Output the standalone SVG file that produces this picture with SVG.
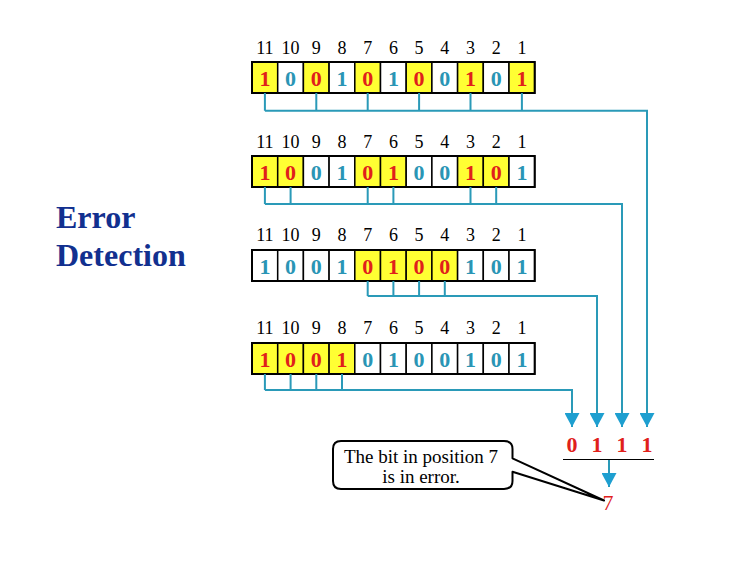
<svg xmlns="http://www.w3.org/2000/svg" width="743" height="567" viewBox="0 0 743 567">
<style>
.c{fill:#ffffff;stroke:#000;stroke-width:1.5}
.y{fill:#ffff33;stroke:#000;stroke-width:1.5}
.o{fill:none;stroke:#000;stroke-width:2}
.lab{font-family:"Liberation Serif",serif;font-size:18px;fill:#000;text-anchor:middle}
.r{font-family:"Liberation Serif",serif;font-size:22px;font-weight:bold;fill:#e0201b;text-anchor:middle}
.b{font-family:"Liberation Serif",serif;font-size:22px;font-weight:bold;fill:#2a95b5;text-anchor:middle}
.ln{fill:none;stroke:#2a9ab8;stroke-width:2}
.ttl{font-family:"Liberation Serif",serif;font-size:32px;font-weight:bold;fill:#12308f}
.cal{font-family:"Liberation Serif",serif;font-size:19px;fill:#000;text-anchor:middle}
</style>
<defs>
<marker id="ah" viewBox="0 0 14 15" refX="14" refY="7.5" markerWidth="14" markerHeight="15" markerUnits="userSpaceOnUse" orient="auto">
<path d="M0,0 L14,7.5 L0,15 z" fill="#1e9fd0"/>
</marker>
</defs>
<rect width="743" height="567" fill="#fff"/>
<g id="title">
<text class="ttl" x="56" y="228">Error</text>
<text class="ttl" x="56" y="266">Detection</text>
</g>
<g id="row1">
<rect class="y" x="252" y="62" width="25.7" height="31"/>
<rect class="c" x="277.7" y="62" width="25.7" height="31"/>
<rect class="y" x="303.4" y="62" width="25.7" height="31"/>
<rect class="c" x="329.1" y="62" width="25.7" height="31"/>
<rect class="y" x="354.8" y="62" width="25.7" height="31"/>
<rect class="c" x="380.5" y="62" width="25.7" height="31"/>
<rect class="y" x="406.2" y="62" width="25.7" height="31"/>
<rect class="c" x="431.9" y="62" width="25.7" height="31"/>
<rect class="y" x="457.6" y="62" width="25.7" height="31"/>
<rect class="c" x="483.3" y="62" width="25.7" height="31"/>
<rect class="y" x="509" y="62" width="25.7" height="31"/>
<rect class="o" x="252" y="62" width="282.7" height="31"/>
<text class="lab" y="54"><tspan x="264.9">11</tspan><tspan x="290.6">10</tspan><tspan x="316.3">9</tspan><tspan x="342">8</tspan><tspan x="367.7">7</tspan><tspan x="393.4">6</tspan><tspan x="419.1">5</tspan><tspan x="444.8">4</tspan><tspan x="470.5">3</tspan><tspan x="496.2">2</tspan><tspan x="521.9">1</tspan></text>
<text class="r" x="264.9" y="85.5">1</text><text class="b" x="290.6" y="85.5">0</text><text class="r" x="316.3" y="85.5">0</text><text class="b" x="342" y="85.5">1</text><text class="r" x="367.7" y="85.5">0</text><text class="b" x="393.4" y="85.5">1</text><text class="r" x="419.1" y="85.5">0</text><text class="b" x="444.8" y="85.5">0</text><text class="r" x="470.5" y="85.5">1</text><text class="b" x="496.2" y="85.5">0</text><text class="r" x="521.9" y="85.5">1</text>
</g>
<g id="row2">
<rect class="y" x="252" y="156" width="25.7" height="31"/>
<rect class="y" x="277.7" y="156" width="25.7" height="31"/>
<rect class="c" x="303.4" y="156" width="25.7" height="31"/>
<rect class="c" x="329.1" y="156" width="25.7" height="31"/>
<rect class="y" x="354.8" y="156" width="25.7" height="31"/>
<rect class="y" x="380.5" y="156" width="25.7" height="31"/>
<rect class="c" x="406.2" y="156" width="25.7" height="31"/>
<rect class="c" x="431.9" y="156" width="25.7" height="31"/>
<rect class="y" x="457.6" y="156" width="25.7" height="31"/>
<rect class="y" x="483.3" y="156" width="25.7" height="31"/>
<rect class="c" x="509" y="156" width="25.7" height="31"/>
<rect class="o" x="252" y="156" width="282.7" height="31"/>
<text class="lab" y="148"><tspan x="264.9">11</tspan><tspan x="290.6">10</tspan><tspan x="316.3">9</tspan><tspan x="342">8</tspan><tspan x="367.7">7</tspan><tspan x="393.4">6</tspan><tspan x="419.1">5</tspan><tspan x="444.8">4</tspan><tspan x="470.5">3</tspan><tspan x="496.2">2</tspan><tspan x="521.9">1</tspan></text>
<text class="r" x="264.9" y="179.5">1</text><text class="r" x="290.6" y="179.5">0</text><text class="b" x="316.3" y="179.5">0</text><text class="b" x="342" y="179.5">1</text><text class="r" x="367.7" y="179.5">0</text><text class="r" x="393.4" y="179.5">1</text><text class="b" x="419.1" y="179.5">0</text><text class="b" x="444.8" y="179.5">0</text><text class="r" x="470.5" y="179.5">1</text><text class="r" x="496.2" y="179.5">0</text><text class="b" x="521.9" y="179.5">1</text>
</g>
<g id="row3">
<rect class="c" x="252" y="250" width="25.7" height="31"/>
<rect class="c" x="277.7" y="250" width="25.7" height="31"/>
<rect class="c" x="303.4" y="250" width="25.7" height="31"/>
<rect class="c" x="329.1" y="250" width="25.7" height="31"/>
<rect class="y" x="354.8" y="250" width="25.7" height="31"/>
<rect class="y" x="380.5" y="250" width="25.7" height="31"/>
<rect class="y" x="406.2" y="250" width="25.7" height="31"/>
<rect class="y" x="431.9" y="250" width="25.7" height="31"/>
<rect class="c" x="457.6" y="250" width="25.7" height="31"/>
<rect class="c" x="483.3" y="250" width="25.7" height="31"/>
<rect class="c" x="509" y="250" width="25.7" height="31"/>
<rect class="o" x="252" y="250" width="282.7" height="31"/>
<text class="lab" y="241"><tspan x="264.9">11</tspan><tspan x="290.6">10</tspan><tspan x="316.3">9</tspan><tspan x="342">8</tspan><tspan x="367.7">7</tspan><tspan x="393.4">6</tspan><tspan x="419.1">5</tspan><tspan x="444.8">4</tspan><tspan x="470.5">3</tspan><tspan x="496.2">2</tspan><tspan x="521.9">1</tspan></text>
<text class="b" x="264.9" y="273.5">1</text><text class="b" x="290.6" y="273.5">0</text><text class="b" x="316.3" y="273.5">0</text><text class="b" x="342" y="273.5">1</text><text class="r" x="367.7" y="273.5">0</text><text class="r" x="393.4" y="273.5">1</text><text class="r" x="419.1" y="273.5">0</text><text class="r" x="444.8" y="273.5">0</text><text class="b" x="470.5" y="273.5">1</text><text class="b" x="496.2" y="273.5">0</text><text class="b" x="521.9" y="273.5">1</text>
</g>
<g id="row4">
<rect class="y" x="252" y="343" width="25.7" height="31"/>
<rect class="y" x="277.7" y="343" width="25.7" height="31"/>
<rect class="y" x="303.4" y="343" width="25.7" height="31"/>
<rect class="y" x="329.1" y="343" width="25.7" height="31"/>
<rect class="c" x="354.8" y="343" width="25.7" height="31"/>
<rect class="c" x="380.5" y="343" width="25.7" height="31"/>
<rect class="c" x="406.2" y="343" width="25.7" height="31"/>
<rect class="c" x="431.9" y="343" width="25.7" height="31"/>
<rect class="c" x="457.6" y="343" width="25.7" height="31"/>
<rect class="c" x="483.3" y="343" width="25.7" height="31"/>
<rect class="c" x="509" y="343" width="25.7" height="31"/>
<rect class="o" x="252" y="343" width="282.7" height="31"/>
<text class="lab" y="334"><tspan x="264.9">11</tspan><tspan x="290.6">10</tspan><tspan x="316.3">9</tspan><tspan x="342">8</tspan><tspan x="367.7">7</tspan><tspan x="393.4">6</tspan><tspan x="419.1">5</tspan><tspan x="444.8">4</tspan><tspan x="470.5">3</tspan><tspan x="496.2">2</tspan><tspan x="521.9">1</tspan></text>
<text class="r" x="264.9" y="366.5">1</text><text class="r" x="290.6" y="366.5">0</text><text class="r" x="316.3" y="366.5">0</text><text class="r" x="342" y="366.5">1</text><text class="b" x="367.7" y="366.5">0</text><text class="b" x="393.4" y="366.5">1</text><text class="b" x="419.1" y="366.5">0</text><text class="b" x="444.8" y="366.5">0</text><text class="b" x="470.5" y="366.5">1</text><text class="b" x="496.2" y="366.5">0</text><text class="b" x="521.9" y="366.5">1</text>
</g>
<g id="connectors">
<path class="ln" d="M264.9,93V110.7M316.3,93V110.7M367.7,93V110.7M419.1,93V110.7M470.5,93V110.7M521.9,93V110.7"/>
<path class="ln" d="M264.9,110.7H647V427" marker-end="url(#ah)"/>
<path class="ln" d="M264.9,187V204M290.6,187V204M367.7,187V204M393.4,187V204M470.5,187V204M496.2,187V204"/>
<path class="ln" d="M264.9,204H622V427" marker-end="url(#ah)"/>
<path class="ln" d="M367.7,281V296M393.4,281V296M419.1,281V296M444.8,281V296"/>
<path class="ln" d="M367.7,296H597V427" marker-end="url(#ah)"/>
<path class="ln" d="M264.9,374V390M290.6,374V390M316.3,374V390M342,374V390"/>
<path class="ln" d="M264.9,390H572V427" marker-end="url(#ah)"/>
<path class="ln" d="M609,460V487" marker-end="url(#ah)"/>
</g>
<g id="result">
<text class="r" x="572" y="452">0</text>
<text class="r" x="597" y="452">1</text>
<text class="r" x="622" y="452">1</text>
<text class="r" x="647" y="452">1</text>
<line x1="563" y1="459.5" x2="654" y2="459.5" stroke="#000" stroke-width="1"/>
<text x="608" y="510" style="font-family:'Liberation Serif',serif;font-size:22px;fill:#e0201b;text-anchor:middle">7</text>
</g>
<g id="callout">
<path d="M341,441H504Q512.5,441 512.5,449V458.3L604,500.5L512.5,471.7V481Q512.5,489 504,489H341Q333,489 333,481V449Q333,441 341,441Z" fill="#fff" stroke="#000" stroke-width="2" stroke-linejoin="round"/>
<text class="cal" x="421" y="463">The bit in position 7</text>
<text class="cal" x="421" y="483">is in error.</text>
</g>
</svg>
